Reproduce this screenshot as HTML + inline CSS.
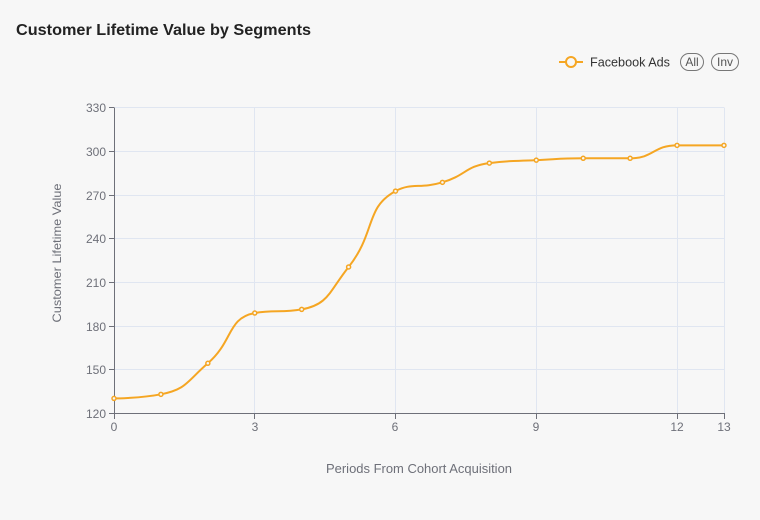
<!DOCTYPE html>
<html><head><meta charset="utf-8"><style>
html,body{margin:0;padding:0;background:#f7f7f7;}
svg{display:block;}
text{font-family:"Liberation Sans",sans-serif;}
</style></head><body>
<svg id="c" width="760" height="520" viewBox="0 0 760 520" xmlns="http://www.w3.org/2000/svg">
<rect width="760" height="520" fill="#f7f7f7"/>
<text x="16" y="35" font-size="16" font-weight="bold" fill="#222" textLength="295" lengthAdjust="spacingAndGlyphs">Customer Lifetime Value by Segments</text>
<!-- legend -->
<line x1="559" y1="62" x2="583" y2="62" stroke="#f5a623" stroke-width="2"/>
<circle cx="571" cy="62" r="5" fill="#f7f7f7" stroke="#f5a623" stroke-width="2"/>
<text x="590" y="66.5" font-size="13" fill="#333" textLength="80" lengthAdjust="spacingAndGlyphs">Facebook Ads</text>
<rect x="680.5" y="53.5" width="23" height="17" rx="8.5" fill="none" stroke="#777" stroke-width="1"/>
<text x="692" y="66" font-size="12" fill="#555" text-anchor="middle">All</text>
<rect x="711.5" y="53.5" width="27" height="17" rx="8.5" fill="none" stroke="#777" stroke-width="1"/>
<text x="725" y="66" font-size="12" fill="#555" text-anchor="middle">Inv</text>
<!-- grid -->
<g stroke="#e0e6f1" stroke-width="1">
<line x1="114" y1="107.5" x2="724" y2="107.5"/>
<line x1="114" y1="151.5" x2="724" y2="151.5"/>
<line x1="114" y1="195.5" x2="724" y2="195.5"/>
<line x1="114" y1="238.5" x2="724" y2="238.5"/>
<line x1="114" y1="282.5" x2="724" y2="282.5"/>
<line x1="114" y1="326.5" x2="724" y2="326.5"/>
<line x1="114" y1="369.5" x2="724" y2="369.5"/>
<line x1="254.5" y1="107.5" x2="254.5" y2="414"/>
<line x1="395.5" y1="107.5" x2="395.5" y2="414"/>
<line x1="536.5" y1="107.5" x2="536.5" y2="414"/>
<line x1="677.5" y1="107.5" x2="677.5" y2="414"/>
<line x1="724.5" y1="107.5" x2="724.5" y2="414"/>
</g>
<!-- axes -->
<g stroke="#6e7079" stroke-width="1">
<line x1="114.5" y1="107.5" x2="114.5" y2="414"/>
<line x1="114" y1="413.5" x2="725" y2="413.5"/>
<line x1="109" y1="107.5" x2="114" y2="107.5"/>
<line x1="109" y1="151.5" x2="114" y2="151.5"/>
<line x1="109" y1="195.5" x2="114" y2="195.5"/>
<line x1="109" y1="238.5" x2="114" y2="238.5"/>
<line x1="109" y1="282.5" x2="114" y2="282.5"/>
<line x1="109" y1="326.5" x2="114" y2="326.5"/>
<line x1="109" y1="369.5" x2="114" y2="369.5"/>
<line x1="109" y1="413.5" x2="114" y2="413.5"/>
<line x1="114.5" y1="414" x2="114.5" y2="419"/>
<line x1="254.5" y1="414" x2="254.5" y2="419"/>
<line x1="395.5" y1="414" x2="395.5" y2="419"/>
<line x1="536.5" y1="414" x2="536.5" y2="419"/>
<line x1="677.5" y1="414" x2="677.5" y2="419"/>
<line x1="724.5" y1="414" x2="724.5" y2="419"/>
</g>
<g font-size="12" fill="#6e7079" text-anchor="end">
<text x="106" y="112">330</text>
<text x="106" y="156">300</text>
<text x="106" y="200">270</text>
<text x="106" y="243">240</text>
<text x="106" y="287">210</text>
<text x="106" y="331">180</text>
<text x="106" y="374">150</text>
<text x="106" y="418">120</text>
</g>
<g font-size="12" fill="#6e7079" text-anchor="middle">
<text x="114" y="431">0</text>
<text x="255" y="431">3</text>
<text x="395" y="431">6</text>
<text x="536" y="431">9</text>
<text x="677" y="431">12</text>
<text x="724" y="431">13</text>
</g>
<text x="419" y="473" font-size="12.5" fill="#6e7079" text-anchor="middle" textLength="186" lengthAdjust="spacingAndGlyphs">Periods From Cohort Acquisition</text>
<text transform="translate(61,253) rotate(-90)" x="0" y="0" font-size="12" fill="#6e7079" text-anchor="middle" textLength="139" lengthAdjust="spacingAndGlyphs">Customer Lifetime Value</text>
<path id="ln" d="" fill="none" stroke="#f5a623" stroke-width="2" stroke-linejoin="round"/>
<g id="pts"></g>
</svg>
<script>
(function(){
var vals=[130.5,133.3,154.6,189.1,191.6,220.7,272.8,278.8,292,294,295.3,295.3,304.2,304.2];
var P=[];
for(var i=0;i<vals.length;i++){P.push([114+i*46.92,413.7-(vals[i]-120)*1.457]);}
var smooth=0.5,mn=Math.min,mx=Math.max;
var d="M"+P[0][0].toFixed(2)+","+P[0][1].toFixed(2);
var cpx0=P[0][0],cpy0=P[0][1],prevX=P[0][0],prevY=P[0][1];
for(var k=1;k<P.length;k++){
 var x=P[k][0],y=P[k][1],cpx1,cpy1,ncx,ncy;
 if(k===P.length-1){cpx1=x;cpy1=y;ncx=x;ncy=y;}
 else{
  var nx=P[k+1][0],ny=P[k+1][1];
  var vx=nx-prevX,vy=ny-prevY;
  var dx0=x-prevX,dx1=nx-x,dy0=y-prevY,dy1=ny-y;
  var lp=Math.sqrt(dx0*dx0+dy0*dy0),ln=Math.sqrt(dx1*dx1+dy1*dy1);
  var r=ln/(ln+lp);
  ncx=x+vx*smooth*r;ncy=y+vy*smooth*r;
  ncx=mn(ncx,mx(nx,x));ncy=mn(ncy,mx(ny,y));
  ncx=mx(ncx,mn(nx,x));ncy=mx(ncy,mn(ny,y));
  vx=ncx-x;vy=ncy-y;
  cpx1=x-vx*lp/ln;cpy1=y-vy*lp/ln;
  cpx1=mn(cpx1,mx(prevX,x));cpy1=mn(cpy1,mx(prevY,y));
  cpx1=mx(cpx1,mn(prevX,x));cpy1=mx(cpy1,mn(prevY,y));
  vx=x-cpx1;vy=y-cpy1;
  ncx=x+vx*ln/lp;ncy=y+vy*ln/lp;
 }
 d+=" C"+cpx0.toFixed(2)+","+cpy0.toFixed(2)+" "+cpx1.toFixed(2)+","+cpy1.toFixed(2)+" "+x.toFixed(2)+","+y.toFixed(2);
 cpx0=ncx;cpy0=ncy;prevX=x;prevY=y;
}
document.getElementById("ln").setAttribute("d",d);
var g=document.getElementById("pts"),ns="http://www.w3.org/2000/svg";
for(var j=0;j<P.length;j++){
 var c=document.createElementNS(ns,"circle");
 c.setAttribute("cx",P[j][0]);c.setAttribute("cy",P[j][1]);c.setAttribute("r","2");
 c.setAttribute("fill","#f7f7f7");c.setAttribute("stroke","#f5a623");c.setAttribute("stroke-width","1.5");
 g.appendChild(c);
}
})();
</script>
</body></html>
